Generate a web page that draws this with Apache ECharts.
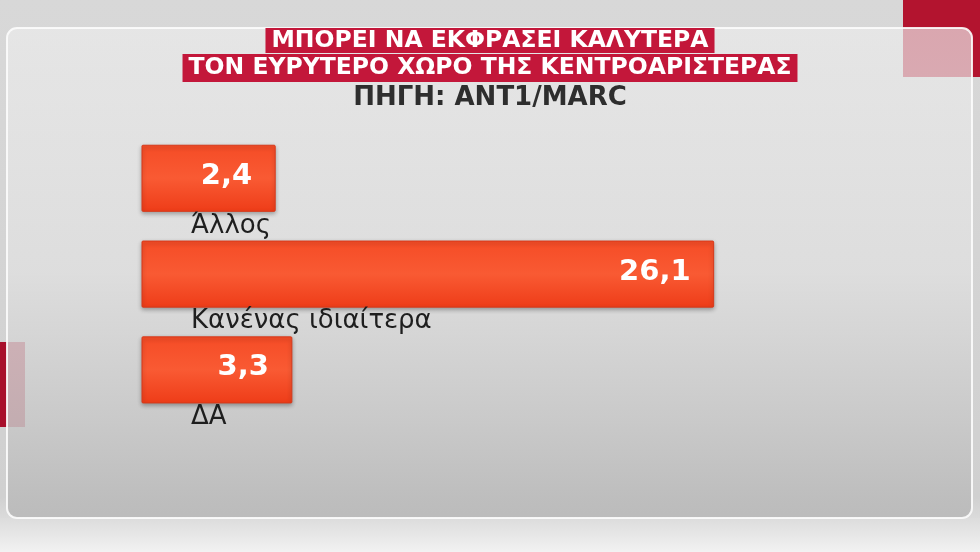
<!DOCTYPE html>
<html><head><meta charset="utf-8">
<script src="https://cdn.jsdelivr.net/npm/echarts@6/dist/echarts.min.js"></script>
<style>html,body{margin:0;padding:0;background:#d3d3d3}#c{width:980px;height:552px}</style>
</head><body><div id="c"></div>
<script>
const titleLines = ['ΜΠΟΡΕΙ ΝΑ ΕΚΦΡΑΣΕΙ ΚΑΛΥΤΕΡΑ', 'ΤΟΝ ΕΥΡΥΤΕΡΟ ΧΩΡΟ ΤΗΣ ΚΕΝΤΡΟΑΡΙΣΤΕΡΑΣ'];
const sourceText = 'ΠΗΓΗ: ANT1/MARC';
const categories = ['Άλλος', 'Κανένας ιδιαίτερα', 'ΔΑ'];
const values = [2.4, 26.1, 3.3];

const axisMin = -4.8;
const axisMax = 40;

const chart = echarts.init(document.getElementById('c'));
const barFill = new echarts.graphic.LinearGradient(0, 0, 0, 1, [
  {offset: 0, color: '#f54c26'},
  {offset: 0.5, color: '#f95a33'},
  {offset: 1, color: '#ee3c18'}
]);

chart.setOption({
  animation: false,
  backgroundColor: '#d4d4d4',
  title: [
    {text: titleLines[0], left: 'center', top: 28, backgroundColor: '#c3173a', padding: [0, 6, 0, 6],
     textStyle: {color: '#fff', fontSize: 23.5, fontWeight: 'bold', fontFamily: 'DejaVu Sans', lineHeight: 25}},
    {text: titleLines[1], left: 'center', top: 54, backgroundColor: '#c3173a', padding: [0, 6, 0, 6],
     textStyle: {color: '#fff', fontSize: 23.5, fontWeight: 'bold', fontFamily: 'DejaVu Sans', lineHeight: 28}},
    {text: sourceText, left: 'center', top: 85, padding: 0,
     textStyle: {color: '#2e2e2e', fontSize: 26, fontWeight: 'bold', fontFamily: 'DejaVu Sans', lineHeight: 26}}
  ],
  graphic: [
    {type: 'rect', z: -10, z2: 0, silent: true, shape: {x: 0, y: 0, width: 980, height: 552},
     style: {fill: new echarts.graphic.LinearGradient(0, 0, 0, 1, [
       {offset: 0, color: '#d8d8d8'}, {offset: 0.9, color: '#d0d0d0'}, {offset: 1, color: '#ececec'}])}},
    {type: 'rect', z: -10, z2: 1, silent: true, shape: {x: 0, y: 518, width: 980, height: 34},
     style: {fill: new echarts.graphic.LinearGradient(0, 0, 0, 1, [
       {offset: 0, color: '#dcdcdc'}, {offset: 1, color: '#f2f2f2'}])}},
    {type: 'rect', z: -10, z2: 2, silent: true, shape: {x: 903, y: 0, width: 77, height: 77},
     style: {fill: '#b3142f'}},
    {type: 'rect', z: -10, z2: 2, silent: true, shape: {x: 0, y: 342, width: 25, height: 85},
     style: {fill: '#a80f2b'}},
    {type: 'rect', z: -10, z2: 3, silent: true, shape: {x: 7, y: 28, width: 965, height: 490, r: 10},
     style: {fill: new echarts.graphic.LinearGradient(0, 0, 0, 1, [
       {offset: 0, color: 'rgba(236,236,236,0.68)'},
       {offset: 0.5, color: 'rgba(224,224,224,0.78)'},
       {offset: 1, color: 'rgba(184,184,184,0.9)'}]),
       stroke: 'rgba(252,252,252,0.9)', lineWidth: 2}}
  ],
  grid: {left: 142, width: 828.8, top: 130.4, height: 287.4},
  xAxis: {type: 'value', min: axisMin, max: axisMax, show: false},
  yAxis: {type: 'category', data: categories, inverse: true, show: false},
  series: [{
    type: 'custom',
    encode: {x: 0, y: 1},
    data: values.map((v, i) => [v, i]),
    renderItem: function (params, api) {
      const v = api.value(0);
      const i = api.value(1);
      const p0 = api.coord([axisMin, i]);
      const p1 = api.coord([v, i]);
      const band = api.size([0, 1])[1];
      const h = band * 0.69;
      const x = p0[0], y = p1[1] - h / 2, w = p1[0] - p0[0];
      return {
        type: 'group',
        children: [
          {type: 'rect', shape: {x: x, y: y, width: w, height: h, r: 1},
           style: {fill: barFill, stroke: '#d8391a', lineWidth: 1,
                   shadowBlur: 4, shadowColor: 'rgba(0,0,0,0.3)', shadowOffsetY: 2}},
          {type: 'text', style: {text: String(v).replace('.', ','), x: p1[0] - 23, y: p1[1] - 2,
           align: 'right', textAlign: 'right', verticalAlign: 'middle', textVerticalAlign: 'middle',
           font: 'bold 29px "DejaVu Sans"', fill: '#ffffff',
           shadowBlur: 3, shadowColor: 'rgba(0,0,0,0.85)', shadowOffsetX: 1, shadowOffsetY: 2}},
          {type: 'text', style: {text: categories[i], x: x + 49, y: p1[1] + 47.5,
           align: 'left', textAlign: 'left', verticalAlign: 'middle', textVerticalAlign: 'middle',
           font: '26px "DejaVu Sans"', fill: '#1e1e1e'}}
        ]
      };
    }
  }]
});
</script></body></html>
